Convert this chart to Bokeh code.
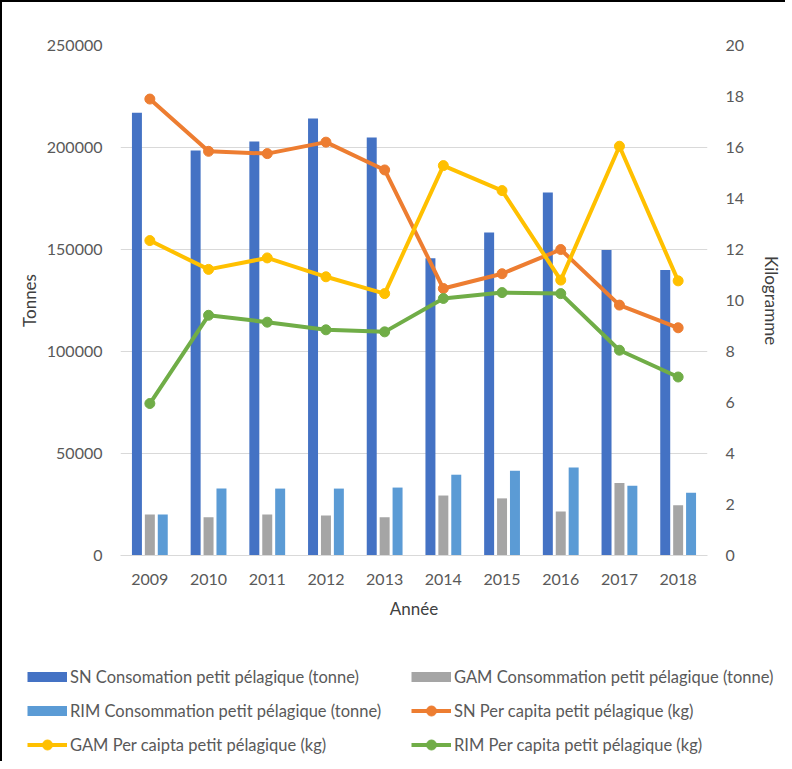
from bokeh.plotting import figure
from bokeh.models import (FactorRange, Range1d, LinearAxis, ColumnDataSource, Legend,
                          LegendItem, SingleIntervalTicker, NumeralTickFormatter)
from bokeh.transform import dodge
from bokeh.layouts import column
from bokeh.embed import file_html
from bokeh.resources import INLINE

years = ["2009", "2010", "2011", "2012", "2013", "2014", "2015", "2016", "2017", "2018"]
sn_tonnes = [217000, 198500, 203000, 214200, 204900, 145700, 158300, 178000, 149700, 139900]
gam_tonnes = [20100, 18800, 20100, 19600, 18800, 29400, 28000, 21600, 35600, 24600]
rim_tonnes = [20100, 32800, 32800, 32800, 33300, 39600, 41600, 43100, 34200, 30700]
sn_kg = [17.9, 15.85, 15.76, 16.21, 15.12, 10.47, 11.05, 12.0, 9.82, 8.93]
gam_kg = [12.35, 11.22, 11.67, 10.93, 10.27, 15.29, 14.31, 10.8, 16.05, 10.77]
rim_kg = [5.96, 9.42, 9.15, 8.85, 8.77, 10.08, 10.31, 10.27, 8.05, 7.0]

labels = [
    "SN Consomation petit pélagique (tonne)",
    "GAM Consommation petit pélagique (tonne)",
    "RIM Consommation petit pélagique (tonne)",
    "SN Per capita petit pélagique (kg)",
    "GAM Per caipta petit pélagique (kg)",
    "RIM Per capita petit pélagique (kg)",
]

C_SN_BAR, C_GAM_BAR, C_RIM_BAR = "#4472C4", "#A5A5A5", "#5B9BD5"
C_SN_LINE, C_GAM_LINE, C_RIM_LINE = "#ED7D31", "#FFC000", "#70AD47"
FONT = "Lato"
TICK_COLOR = "#595959"
TITLE_COLOR = "#404040"

src = ColumnDataSource(dict(year=years, sn=sn_tonnes, gam=gam_tonnes, rim=rim_tonnes,
                            sn_kg=sn_kg, gam_kg=gam_kg, rim_kg=rim_kg))

p = figure(x_range=FactorRange(*years), y_range=Range1d(0, 250000),
           frame_width=587, frame_height=510,
           min_border_left=118, min_border_right=75, min_border_top=43, min_border_bottom=84,
           output_backend="svg", toolbar_location=None)
p.frame_align = False
p.extra_y_ranges = {"kg": Range1d(0, 20)}
p.outline_line_color = None
p.xgrid.visible = False
p.ygrid.grid_line_color = "#D9D9D9"
p.ygrid.grid_line_width = 1

p.yaxis.ticker = SingleIntervalTicker(interval=50000)
p.yaxis.formatter = NumeralTickFormatter(format="0")
p.ygrid.ticker = SingleIntervalTicker(interval=50000)

ax_r = LinearAxis(y_range_name="kg", ticker=SingleIntervalTicker(interval=2),
                  axis_label="Kilogramme")
p.add_layout(ax_r, "right")

for ax in [p.yaxis[0], ax_r]:
    ax.axis_line_color = None
    ax.major_tick_line_color = None
    ax.minor_tick_line_color = None
    ax.major_label_text_font = FONT
    ax.major_label_text_font_size = "16px"
    ax.major_label_text_color = TICK_COLOR
    ax.axis_label_text_font = FONT
    ax.axis_label_text_font_size = "17px"
    ax.axis_label_text_font_style = "normal"
    ax.axis_label_text_color = TITLE_COLOR
p.yaxis[0].axis_label = "Tonnes"
p.yaxis[0].major_label_standoff = 12
p.yaxis[0].axis_label_standoff = 4
ax_r.major_label_standoff = 12
ax_r.axis_label_standoff = 14

xa = p.xaxis[0]
xa.axis_label = "Année"
xa.axis_line_color = "#D9D9D9"
xa.axis_line_width = 1
xa.major_tick_line_color = None
xa.minor_tick_line_color = None
xa.major_label_text_font = FONT
xa.major_label_text_font_size = "16px"
xa.major_label_text_color = TICK_COLOR
xa.major_label_standoff = 12
xa.axis_label_text_font = FONT
xa.axis_label_text_font_size = "17px"
xa.axis_label_text_font_style = "normal"
xa.axis_label_text_color = TITLE_COLOR
xa.axis_label_standoff = 10

bw = 0.17
p.vbar(x=dodge("year", -0.22, range=p.x_range), top="sn", width=bw, source=src,
       fill_color=C_SN_BAR, line_color=None)
p.vbar(x=dodge("year", 0.0, range=p.x_range), top="gam", width=bw, source=src,
       fill_color=C_GAM_BAR, line_color=None)
p.vbar(x=dodge("year", 0.22, range=p.x_range), top="rim", width=bw, source=src,
       fill_color=C_RIM_BAR, line_color=None)

for col, c in [("sn_kg", C_SN_LINE), ("gam_kg", C_GAM_LINE), ("rim_kg", C_RIM_LINE)]:
    p.line(x="year", y=col, source=src, y_range_name="kg", line_color=c, line_width=4)
    p.scatter(x="year", y=col, source=src, y_range_name="kg", fill_color=c, line_color=c,
              size=10)

# legend panel (dummy renderers kept outside the visible range)
leg = figure(width=780, height=122, x_range=Range1d(0, 1), y_range=Range1d(0, 1),
             x_axis_location=None, y_axis_location=None, min_border=0,
             output_backend="svg", toolbar_location=None)
leg.frame_align = False
leg.outline_line_color = None
leg.grid.visible = False

items = []
for lab, c in zip(labels[:3], [C_SN_BAR, C_GAM_BAR, C_RIM_BAR]):
    r = leg.line(x=[-10, -9], y=[-10, -10], line_color=c, line_width=10)
    items.append(LegendItem(label=lab, renderers=[r]))
for lab, c in zip(labels[3:], [C_SN_LINE, C_GAM_LINE, C_RIM_LINE]):
    rl = leg.line(x=[-10, -9], y=[-10, -10], line_color=c, line_width=4)
    rs = leg.scatter(x=[-10], y=[-10], fill_color=c, line_color=c, size=10)
    items.append(LegendItem(label=lab, renderers=[rl, rs]))

legend = Legend(items=items, location=(25, 4), orientation="horizontal", ncols=2,
                glyph_width=40, glyph_height=25, label_height=21, label_width=332,
                spacing=9, padding=0, margin=0, border_line_color=None,
                background_fill_alpha=0,
                label_text_font=FONT, label_text_font_size="16.5px",
                label_text_color=TICK_COLOR, label_standoff=3)
leg.add_layout(legend)

layout = column(p, leg, styles={"border-left": "2px solid black",
                                "border-top": "2px solid black"})

open("out.html", "w").write(file_html(layout, INLINE))
